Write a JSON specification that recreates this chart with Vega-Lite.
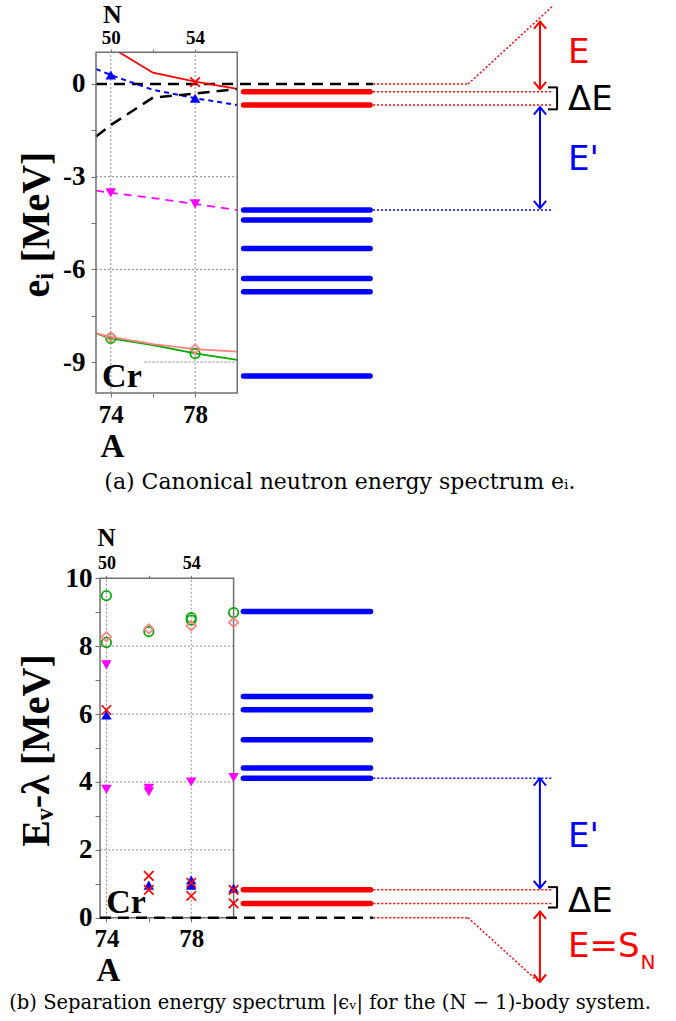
{
"$schema": "https://vega.github.io/schema/vega-lite/v6.json",
"width": 676, "height": 1021, "padding": 0,
"autosize": {"type": "none"},
"background": "white",
"config": {"view": {"stroke": null}},
"data": {"values": [{"annotation": 1}]},
"datasets": {
"lines_a": [
{"series":"red","A":74.4,"e":1.03},{"series":"red","A":76,"e":0.366},{"series":"red","A":78,"e":0.075},{"series":"red","A":80,"e":-0.16},
{"series":"blue","A":73.3,"e":0.485},{"series":"blue","A":74,"e":0.29},{"series":"blue","A":76,"e":-0.19},{"series":"blue","A":78,"e":-0.46},{"series":"blue","A":80,"e":-0.68},
{"series":"black","A":73.3,"e":-1.7},{"series":"black","A":74,"e":-1.33},{"series":"black","A":76,"e":-0.44},{"series":"black","A":78,"e":-0.31},{"series":"black","A":80,"e":-0.16},
{"series":"magenta","A":73.3,"e":-3.45},{"series":"magenta","A":74,"e":-3.52},{"series":"magenta","A":76,"e":-3.69},{"series":"magenta","A":78,"e":-3.88},{"series":"magenta","A":80,"e":-4.08},
{"series":"green","A":73.3,"e":-8.07},{"series":"green","A":74,"e":-8.23},{"series":"green","A":76,"e":-8.45},{"series":"green","A":78,"e":-8.72},{"series":"green","A":80,"e":-8.93},
{"series":"salmon","A":73.3,"e":-8.07},{"series":"salmon","A":74,"e":-8.18},{"series":"salmon","A":76,"e":-8.42},{"series":"salmon","A":78,"e":-8.58},{"series":"salmon","A":80,"e":-8.66}
],
"points_a": [
{"series":"blue","A":74,"e":0.29},{"series":"blue","A":78,"e":-0.46},
{"series":"magenta","A":74,"e":-3.52},{"series":"magenta","A":78,"e":-3.88},
{"series":"red","A":78,"e":0.06},
{"series":"green","A":74,"e":-8.23},{"series":"green","A":78,"e":-8.72},
{"series":"salmon","A":74,"e":-8.18},{"series":"salmon","A":78,"e":-8.58}
],
"levels_a": [
{"series":"red","e":-0.25},{"series":"red","e":-0.68},
{"series":"blue","e":-4.08},{"series":"blue","e":-4.40},{"series":"blue","e":-5.32},{"series":"blue","e":-6.29},{"series":"blue","e":-6.72},{"series":"blue","e":-9.45}
],
"arrows_a": [{"series":"red","top":2.02,"bottom":-0.17},{"series":"blue","top":-0.75,"bottom":-4.02}],
"labels_a": [{"text":"E","series":"red","e":0.99},{"text":"ΔE","series":"black","e":-0.52},{"text":"E'","series":"blue","e":-2.46}],
"points_b": [
{"series":"green","A":74,"e":9.49},{"series":"green","A":74,"e":8.11},{"series":"green","A":76,"e":8.43},{"series":"green","A":78,"e":8.84},{"series":"green","A":78,"e":8.77},{"series":"green","A":80,"e":8.99},
{"series":"salmon","A":74,"e":8.28},{"series":"salmon","A":76,"e":8.51},{"series":"salmon","A":78,"e":8.6},{"series":"salmon","A":80,"e":8.7},
{"series":"magenta","A":74,"e":7.45},{"series":"magenta","A":74,"e":3.78},{"series":"magenta","A":76,"e":3.81},{"series":"magenta","A":76,"e":3.71},{"series":"magenta","A":78,"e":4.0},{"series":"magenta","A":80,"e":4.13},
{"series":"red","A":74,"e":6.12},{"series":"red","A":76,"e":1.23},{"series":"red","A":76,"e":0.82},{"series":"red","A":78,"e":1.03},{"series":"red","A":78,"e":0.64},{"series":"red","A":80,"e":0.82},{"series":"red","A":80,"e":0.42},
{"series":"blue","A":74,"e":5.97},{"series":"blue","A":76,"e":0.96},{"series":"blue","A":78,"e":1.11},{"series":"blue","A":78,"e":0.96},{"series":"blue","A":80,"e":0.87}
],
"levels_b": [
{"series":"blue","e":9.02},{"series":"blue","e":6.52},{"series":"blue","e":6.13},{"series":"blue","e":5.24},{"series":"blue","e":4.41},{"series":"blue","e":4.11},
{"series":"red","e":0.82},{"series":"red","e":0.42}
],
"arrows_b": [{"series":"blue","top":4.11,"bottom":0.87},{"series":"red","top":0.18,"bottom":-1.89}],
"labels_b": [{"text":"E'","series":"blue","e":2.39},{"text":"ΔE","series":"black","e":0.47},{"text":"E=S","series":"red","e":-0.85}]
},
"layer": [
{
"resolve": {"axis": {"x": "independent", "y": "independent"}},
"layer": [
{"data":{"values":[{"g":74},{"g":78}]},
 "mark":{"type":"rule","stroke":"#888888","strokeWidth":1,"strokeDash":[2,2]},
 "encoding":{
  "x":{"field":"g","type":"quantitative","scale":{"domain":[68.746,100.81],"nice":false,"zero":false},
   "axis":{"orient":"top","offset":-52,"values":[74,76,78],"labelExpr":"datum.value==74?'50':datum.value==78?'54':''","domain":false,"grid":false,"tickSize":3,"tickColor":"#707070","labelFont":"Liberation Serif","labelFontWeight":"bold","labelFontSize":19,"labelColor":"#000000","labelPadding":2,"labelFlush":false,"labelOverlap":false,"title":"N","titleFont":"Liberation Serif","titleFontWeight":"bold","titleFontSize":26,"titleColor":"#000000","titleX":112,"titleY":-30,"titleBaseline":"alphabetic"}},
  "y":{"datum":-10,"type":"quantitative","scale":{"domain":[-30.32,2.718],"nice":false,"zero":false},"axis":null},
  "y2":{"datum":1.03}}},
{"data":{"values":[{"g":-3},{"g":-6}]},
 "mark":{"type":"rule","stroke":"#888888","strokeWidth":1,"strokeDash":[2,2]},
 "encoding":{
  "x":{"datum":73.3,"type":"quantitative","scale":{"domain":[68.746,100.81],"nice":false,"zero":false},"axis":null},
  "x2":{"datum":80},
  "y":{"field":"g","type":"quantitative","scale":{"domain":[-30.32,2.718],"nice":false,"zero":false},"axis":null}}},
{"data":{"values":[{"g":-9}]},
 "mark":{"type":"rule","stroke":"#888888","strokeWidth":1,"strokeDash":[2,2]},
 "encoding":{
  "x":{"datum":75.6,"type":"quantitative","scale":{"domain":[68.746,100.81],"nice":false,"zero":false},"axis":null},
  "x2":{"datum":80},
  "y":{"field":"g","type":"quantitative","scale":{"domain":[-30.32,2.718],"nice":false,"zero":false},"axis":null}}},
{"mark":{"type":"rule","stroke":"#000000","strokeWidth":2.5,"strokeDash":[11,7]},
 "encoding":{
  "x":{"datum":73.3,"type":"quantitative","scale":{"domain":[68.746,100.81],"nice":false,"zero":false},"axis":null},
  "x2":{"datum":86.44},
  "y":{"datum":0,"type":"quantitative","scale":{"domain":[-30.32,2.718],"nice":false,"zero":false},"axis":null}}},
{"data":{"name":"lines_a"},
 "transform":[{"filter":"datum.series=='red'||datum.series=='green'||datum.series=='salmon'"}],
 "mark":{"type":"line","strokeWidth":1.8},
 "encoding":{
  "x":{"field":"A","type":"quantitative","scale":{"domain":[68.746,100.81],"nice":false,"zero":false},"axis":null},
  "y":{"field":"e","type":"quantitative","scale":{"domain":[-30.32,2.718],"nice":false,"zero":false},"axis":null},
  "color":{"field":"series","type":"nominal","scale":{"domain":["red","blue","black","magenta","green","salmon"],"range":["#ff0000","#0000ff","#000000","#ff00ff","#00aa00","#ff8080"]},"legend":null}}},
{"data":{"name":"lines_a"},
 "transform":[{"filter":"datum.series=='blue'"}],
 "mark":{"type":"line","strokeWidth":2,"strokeDash":[5,4]},
 "encoding":{
  "x":{"field":"A","type":"quantitative","scale":{"domain":[68.746,100.81],"nice":false,"zero":false},"axis":null},
  "y":{"field":"e","type":"quantitative","scale":{"domain":[-30.32,2.718],"nice":false,"zero":false},"axis":null},
  "color":{"field":"series","type":"nominal","scale":{"domain":["red","blue","black","magenta","green","salmon"],"range":["#ff0000","#0000ff","#000000","#ff00ff","#00aa00","#ff8080"]},"legend":null}}},
{"data":{"name":"lines_a"},
 "transform":[{"filter":"datum.series=='black'"}],
 "mark":{"type":"line","strokeWidth":2.5,"strokeDash":[12,7]},
 "encoding":{
  "x":{"field":"A","type":"quantitative","scale":{"domain":[68.746,100.81],"nice":false,"zero":false},"axis":null},
  "y":{"field":"e","type":"quantitative","scale":{"domain":[-30.32,2.718],"nice":false,"zero":false},"axis":null},
  "color":{"field":"series","type":"nominal","scale":{"domain":["red","blue","black","magenta","green","salmon"],"range":["#ff0000","#0000ff","#000000","#ff00ff","#00aa00","#ff8080"]},"legend":null}}},
{"data":{"name":"lines_a"},
 "transform":[{"filter":"datum.series=='magenta'"}],
 "mark":{"type":"line","strokeWidth":1.8,"strokeDash":[8,6]},
 "encoding":{
  "x":{"field":"A","type":"quantitative","scale":{"domain":[68.746,100.81],"nice":false,"zero":false},"axis":null},
  "y":{"field":"e","type":"quantitative","scale":{"domain":[-30.32,2.718],"nice":false,"zero":false},"axis":null},
  "color":{"field":"series","type":"nominal","scale":{"domain":["red","blue","black","magenta","green","salmon"],"range":["#ff0000","#0000ff","#000000","#ff00ff","#00aa00","#ff8080"]},"legend":null}}},
{"mark":{"type":"rect","fillOpacity":0,"stroke":"#707070","strokeWidth":1.5},
 "encoding":{
  "x":{"datum":73.3,"type":"quantitative","scale":{"domain":[68.746,100.81],"nice":false,"zero":false},
   "axis":{"orient":"bottom","offset":-628,"values":[74,76,78],"labelExpr":"datum.value==74?'74':datum.value==78?'78':''","domain":false,"grid":false,"tickSize":4,"tickColor":"#707070","labelFont":"Liberation Serif","labelFontWeight":"bold","labelFontSize":25,"labelColor":"#000000","labelPadding":5,"labelFlush":false,"labelOverlap":false,"title":"A","titleFont":"Liberation Serif","titleFontWeight":"bold","titleFontSize":33,"titleColor":"#000000","titleX":112,"titleY":53,"titleBaseline":"middle"}},
  "x2":{"datum":80},
  "y":{"datum":-10,"type":"quantitative","scale":{"domain":[-30.32,2.718],"nice":false,"zero":false},
   "axis":{"orient":"left","offset":-96,"values":[0,-1.5,-3,-4.5,-6,-7.5,-9],"labelExpr":"datum.value==0?'0':datum.value==-3?'-3':datum.value==-6?'-6':datum.value==-9?'-9':''","domain":false,"grid":false,"tickSize":5,"tickColor":"#707070","labelFont":"Liberation Serif","labelFontWeight":"bold","labelFontSize":27,"labelColor":"#000000","labelPadding":6,"labelFlush":false,"labelOverlap":false,"title":"eᵢ [MeV]","titleFont":"Liberation Serif","titleFontWeight":"bold","titleFontSize":40,"titleColor":"#000000","titleX":-60,"titleY":224,"titleBaseline":"middle","titleAngle":-90}},
  "y2":{"datum":1.03}}},
{"data":{"name":"points_a"},
 "transform":[{"filter":"datum.series=='blue'||datum.series=='magenta'"}],
 "mark":{"type":"point","filled":true,"size":110,"opacity":1},
 "encoding":{
  "x":{"field":"A","type":"quantitative","scale":{"domain":[68.746,100.81],"nice":false,"zero":false},"axis":null},
  "y":{"field":"e","type":"quantitative","scale":{"domain":[-30.32,2.718],"nice":false,"zero":false},"axis":null},
  "color":{"field":"series","type":"nominal","scale":{"domain":["red","blue","black","magenta","green","salmon"],"range":["#ff0000","#0000ff","#000000","#ff00ff","#00aa00","#ff8080"]},"legend":null},
  "shape":{"field":"series","type":"nominal","scale":{"domain":["blue","magenta","red","green","salmon"],"range":["triangle-up","triangle-down","M-1,-1L1,1M-1,1L1,-1","circle","diamond"]},"legend":null}}},
{"data":{"name":"points_a"},
 "transform":[{"filter":"datum.series=='red'||datum.series=='green'||datum.series=='salmon'"}],
 "mark":{"type":"point","filled":false,"size":90,"strokeWidth":1.7,"opacity":1},
 "encoding":{
  "x":{"field":"A","type":"quantitative","scale":{"domain":[68.746,100.81],"nice":false,"zero":false},"axis":null},
  "y":{"field":"e","type":"quantitative","scale":{"domain":[-30.32,2.718],"nice":false,"zero":false},"axis":null},
  "color":{"field":"series","type":"nominal","scale":{"domain":["red","blue","black","magenta","green","salmon"],"range":["#ff0000","#0000ff","#000000","#ff00ff","#00aa00","#ff8080"]},"legend":null},
  "shape":{"field":"series","type":"nominal","scale":{"domain":["blue","magenta","red","green","salmon"],"range":["triangle-up","triangle-down","M-1,-1L1,1M-1,1L1,-1","circle","diamond"]},"legend":null}}},
{"data":{"name":"levels_a"},
 "mark":{"type":"rule","strokeWidth":5.5,"strokeCap":"round"},
 "encoding":{
  "x":{"datum":80.3,"type":"quantitative","scale":{"domain":[68.746,100.81],"nice":false,"zero":false},"axis":null},
  "x2":{"datum":86.3},
  "y":{"field":"e","type":"quantitative","scale":{"domain":[-30.32,2.718],"nice":false,"zero":false},"axis":null},
  "color":{"field":"series","type":"nominal","scale":{"domain":["red","blue","black","magenta","green","salmon"],"range":["#ff0000","#0000ff","#000000","#ff00ff","#00aa00","#ff8080"]},"legend":null}}},
{"data":{"name":"levels_a"},
 "transform":[{"filter":"datum.series=='red'"}],
 "mark":{"type":"rule","stroke":"#ff0000","strokeWidth":1.5,"strokeDash":[2,2]},
 "encoding":{
  "x":{"datum":86.44,"type":"quantitative","scale":{"domain":[68.746,100.81],"nice":false,"zero":false},"axis":null},
  "x2":{"datum":94.98},
  "y":{"field":"e","type":"quantitative","scale":{"domain":[-30.32,2.718],"nice":false,"zero":false},"axis":null}}},
{"mark":{"type":"rule","stroke":"#0000ff","strokeWidth":1.5,"strokeDash":[2,2]},
 "encoding":{
  "x":{"datum":86.44,"type":"quantitative","scale":{"domain":[68.746,100.81],"nice":false,"zero":false},"axis":null},
  "x2":{"datum":94.98},
  "y":{"datum":-4.08,"type":"quantitative","scale":{"domain":[-30.32,2.718],"nice":false,"zero":false},"axis":null}}},
{"mark":{"type":"rule","stroke":"#ff0000","strokeWidth":1.5,"strokeDash":[2,2]},
 "encoding":{
  "x":{"datum":86.44,"type":"quantitative","scale":{"domain":[68.746,100.81],"nice":false,"zero":false},"axis":null},
  "x2":{"datum":90.95},
  "y":{"datum":0,"type":"quantitative","scale":{"domain":[-30.32,2.718],"nice":false,"zero":false},"axis":null}}},
{"mark":{"type":"rule","stroke":"#ff0000","strokeWidth":1.5,"strokeDash":[2,2]},
 "encoding":{
  "x":{"datum":90.95,"type":"quantitative","scale":{"domain":[68.746,100.81],"nice":false,"zero":false},"axis":null},
  "x2":{"datum":94.98},
  "y":{"datum":0,"type":"quantitative","scale":{"domain":[-30.32,2.718],"nice":false,"zero":false},"axis":null},
  "y2":{"datum":2.53}}},
{"data":{"name":"arrows_a"},
 "mark":{"type":"rule","strokeWidth":2},
 "encoding":{
  "x":{"datum":94.36,"type":"quantitative","scale":{"domain":[68.746,100.81],"nice":false,"zero":false},"axis":null},
  "y":{"field":"top","type":"quantitative","scale":{"domain":[-30.32,2.718],"nice":false,"zero":false},"axis":null},
  "y2":{"field":"bottom"},
  "color":{"field":"series","type":"nominal","scale":{"domain":["red","blue","black","magenta","green","salmon"],"range":["#ff0000","#0000ff","#000000","#ff00ff","#00aa00","#ff8080"]},"legend":null}}},
{"data":{"name":"arrows_a"},
 "mark":{"type":"point","shape":"M-1,1.2L0,0L1,1.2","filled":false,"size":150,"strokeWidth":2,"opacity":1},
 "encoding":{
  "x":{"datum":94.36,"type":"quantitative","scale":{"domain":[68.746,100.81],"nice":false,"zero":false},"axis":null},
  "y":{"field":"top","type":"quantitative","scale":{"domain":[-30.32,2.718],"nice":false,"zero":false},"axis":null},
  "color":{"field":"series","type":"nominal","scale":{"domain":["red","blue","black","magenta","green","salmon"],"range":["#ff0000","#0000ff","#000000","#ff00ff","#00aa00","#ff8080"]},"legend":null}}},
{"data":{"name":"arrows_a"},
 "mark":{"type":"point","shape":"M-1,-1.2L0,0L1,-1.2","filled":false,"size":150,"strokeWidth":2,"opacity":1},
 "encoding":{
  "x":{"datum":94.36,"type":"quantitative","scale":{"domain":[68.746,100.81],"nice":false,"zero":false},"axis":null},
  "y":{"field":"bottom","type":"quantitative","scale":{"domain":[-30.32,2.718],"nice":false,"zero":false},"axis":null},
  "color":{"field":"series","type":"nominal","scale":{"domain":["red","blue","black","magenta","green","salmon"],"range":["#ff0000","#0000ff","#000000","#ff00ff","#00aa00","#ff8080"]},"legend":null}}},
{"mark":{"type":"rule","stroke":"#000000","strokeWidth":2},
 "encoding":{
  "x":{"datum":94.74,"type":"quantitative","scale":{"domain":[68.746,100.81],"nice":false,"zero":false},"axis":null},
  "x2":{"datum":95.2},
  "y":{"datum":-0.11,"type":"quantitative","scale":{"domain":[-30.32,2.718],"nice":false,"zero":false},"axis":null}}},
{"mark":{"type":"rule","stroke":"#000000","strokeWidth":2},
 "encoding":{
  "x":{"datum":95.17,"type":"quantitative","scale":{"domain":[68.746,100.81],"nice":false,"zero":false},"axis":null},
  "y":{"datum":-0.11,"type":"quantitative","scale":{"domain":[-30.32,2.718],"nice":false,"zero":false},"axis":null},
  "y2":{"datum":-0.82}}},
{"mark":{"type":"rule","stroke":"#000000","strokeWidth":2},
 "encoding":{
  "x":{"datum":94.74,"type":"quantitative","scale":{"domain":[68.746,100.81],"nice":false,"zero":false},"axis":null},
  "x2":{"datum":95.2},
  "y":{"datum":-0.82,"type":"quantitative","scale":{"domain":[-30.32,2.718],"nice":false,"zero":false},"axis":null}}},
{"data":{"name":"labels_a"},
 "mark":{"type":"text","font":"DejaVu Sans","fontSize":34,"align":"left","baseline":"middle"},
 "encoding":{
  "x":{"datum":95.69,"type":"quantitative","scale":{"domain":[68.746,100.81],"nice":false,"zero":false},"axis":null},
  "y":{"field":"e","type":"quantitative","scale":{"domain":[-30.32,2.718],"nice":false,"zero":false},"axis":null},
  "text":{"field":"text"},
  "color":{"field":"series","type":"nominal","scale":{"domain":["red","blue","black","magenta","green","salmon"],"range":["#ff0000","#0000ff","#000000","#ff00ff","#00aa00","#ff8080"]},"legend":null}}},
{"mark":{"type":"text","text":"Cr","font":"Liberation Serif","fontWeight":"bold","fontSize":34,"align":"center","baseline":"middle","color":"#000000"},
 "encoding":{
  "x":{"datum":74.53,"type":"quantitative","scale":{"domain":[68.746,100.81],"nice":false,"zero":false},"axis":null},
  "y":{"datum":-9.47,"type":"quantitative","scale":{"domain":[-30.32,2.718],"nice":false,"zero":false},"axis":null}}},
{"mark":{"type":"text","text":"(a) Canonical neutron energy spectrum eᵢ.","font":"DejaVu Serif","fontSize":22,"align":"center","baseline":"middle","color":"#000000"},
 "encoding":{
  "x":{"datum":84.87,"type":"quantitative","scale":{"domain":[68.746,100.81],"nice":false,"zero":false},"axis":null},
  "y":{"datum":-12.88,"type":"quantitative","scale":{"domain":[-30.32,2.718],"nice":false,"zero":false},"axis":null}}}
]
},
{
"resolve": {"axis": {"x": "independent", "y": "independent"}},
"layer": [
{"data":{"values":[{"g":74},{"g":78}]},
 "mark":{"type":"rule","stroke":"#888888","strokeWidth":1,"strokeDash":[2,2]},
 "encoding":{
  "x":{"field":"g","type":"quantitative","scale":{"domain":[68.98,100.87],"nice":false,"zero":false},
   "axis":{"orient":"top","offset":-578.3,"values":[74,76,78],"labelExpr":"datum.value==74?'50':datum.value==78?'54':''","domain":false,"grid":false,"tickSize":3,"tickColor":"#707070","labelFont":"Liberation Serif","labelFontWeight":"bold","labelFontSize":18,"labelColor":"#000000","labelPadding":3,"labelFlush":false,"labelOverlap":false,"title":"N","titleFont":"Liberation Serif","titleFontWeight":"bold","titleFontSize":25,"titleColor":"#000000","titleX":106,"titleY":-33,"titleBaseline":"alphabetic"}},
  "y":{"datum":0,"type":"quantitative","scale":{"domain":[-3.044,27.04],"nice":false,"zero":false},"axis":null},
  "y2":{"datum":10}}},
{"data":{"values":[{"g":2},{"g":4},{"g":6},{"g":8}]},
 "mark":{"type":"rule","stroke":"#888888","strokeWidth":1,"strokeDash":[2,2]},
 "encoding":{
  "x":{"datum":73.7,"type":"quantitative","scale":{"domain":[68.98,100.87],"nice":false,"zero":false},"axis":null},
  "x2":{"datum":80},
  "y":{"field":"g","type":"quantitative","scale":{"domain":[-3.044,27.04],"nice":false,"zero":false},"axis":null}}},
{"mark":{"type":"rect","fillOpacity":0,"stroke":"#707070","strokeWidth":1.5},
 "encoding":{
  "x":{"datum":73.7,"type":"quantitative","scale":{"domain":[68.98,100.87],"nice":false,"zero":false},
   "axis":{"orient":"bottom","offset":-103.3,"values":[74,76,78],"labelExpr":"datum.value==74?'74':datum.value==78?'78':''","domain":false,"grid":false,"tickSize":4,"tickColor":"#707070","labelFont":"Liberation Serif","labelFontWeight":"bold","labelFontSize":25,"labelColor":"#000000","labelPadding":5,"labelFlush":false,"labelOverlap":false,"title":"A","titleFont":"Liberation Serif","titleFontWeight":"bold","titleFontSize":33,"titleColor":"#000000","titleX":108,"titleY":53,"titleBaseline":"middle"}},
  "x2":{"datum":80},
  "y":{"datum":0,"type":"quantitative","scale":{"domain":[-3.044,27.04],"nice":false,"zero":false},
   "axis":{"orient":"left","offset":-100,"values":[0,1,2,3,4,5,6,7,8,9,10],"labelExpr":"datum.value%2==0?''+datum.value:''","domain":false,"grid":false,"tickSize":5,"tickColor":"#707070","labelFont":"Liberation Serif","labelFontWeight":"bold","labelFontSize":27,"labelColor":"#000000","labelPadding":3,"labelFlush":false,"labelOverlap":false,"title":"Eᵥ-λ [MeV]","titleFont":"Liberation Serif","titleFontWeight":"bold","titleFontSize":40,"titleColor":"#000000","titleX":-64,"titleY":750,"titleBaseline":"middle","titleAngle":-90}},
  "y2":{"datum":10}}},
{"mark":{"type":"rule","stroke":"#000000","strokeWidth":2.5,"strokeDash":[11,7]},
 "encoding":{
  "x":{"datum":73.7,"type":"quantitative","scale":{"domain":[68.98,100.87],"nice":false,"zero":false},"axis":null},
  "x2":{"datum":86.59},
  "y":{"datum":0,"type":"quantitative","scale":{"domain":[-3.044,27.04],"nice":false,"zero":false},"axis":null}}},
{"data":{"name":"points_b"},
 "transform":[{"filter":"datum.series=='blue'||datum.series=='magenta'"}],
 "mark":{"type":"point","filled":true,"size":110,"opacity":1},
 "encoding":{
  "x":{"field":"A","type":"quantitative","scale":{"domain":[68.98,100.87],"nice":false,"zero":false},"axis":null},
  "y":{"field":"e","type":"quantitative","scale":{"domain":[-3.044,27.04],"nice":false,"zero":false},"axis":null},
  "color":{"field":"series","type":"nominal","scale":{"domain":["red","blue","black","magenta","green","salmon"],"range":["#ff0000","#0000ff","#000000","#ff00ff","#00aa00","#ff8080"]},"legend":null},
  "shape":{"field":"series","type":"nominal","scale":{"domain":["blue","magenta","red","green","salmon"],"range":["triangle-up","triangle-down","M-1,-1L1,1M-1,1L1,-1","circle","diamond"]},"legend":null}}},
{"data":{"name":"points_b"},
 "transform":[{"filter":"datum.series=='red'||datum.series=='green'||datum.series=='salmon'"}],
 "mark":{"type":"point","filled":false,"size":90,"strokeWidth":1.7,"opacity":1},
 "encoding":{
  "x":{"field":"A","type":"quantitative","scale":{"domain":[68.98,100.87],"nice":false,"zero":false},"axis":null},
  "y":{"field":"e","type":"quantitative","scale":{"domain":[-3.044,27.04],"nice":false,"zero":false},"axis":null},
  "color":{"field":"series","type":"nominal","scale":{"domain":["red","blue","black","magenta","green","salmon"],"range":["#ff0000","#0000ff","#000000","#ff00ff","#00aa00","#ff8080"]},"legend":null},
  "shape":{"field":"series","type":"nominal","scale":{"domain":["blue","magenta","red","green","salmon"],"range":["triangle-up","triangle-down","M-1,-1L1,1M-1,1L1,-1","circle","diamond"]},"legend":null}}},
{"data":{"name":"levels_b"},
 "mark":{"type":"rule","strokeWidth":5.5,"strokeCap":"round"},
 "encoding":{
  "x":{"datum":80.46,"type":"quantitative","scale":{"domain":[68.98,100.87],"nice":false,"zero":false},"axis":null},
  "x2":{"datum":86.46},
  "y":{"field":"e","type":"quantitative","scale":{"domain":[-3.044,27.04],"nice":false,"zero":false},"axis":null},
  "color":{"field":"series","type":"nominal","scale":{"domain":["red","blue","black","magenta","green","salmon"],"range":["#ff0000","#0000ff","#000000","#ff00ff","#00aa00","#ff8080"]},"legend":null}}},
{"data":{"name":"levels_b"},
 "transform":[{"filter":"datum.series=='red'"}],
 "mark":{"type":"rule","stroke":"#ff0000","strokeWidth":1.5,"strokeDash":[2,2]},
 "encoding":{
  "x":{"datum":86.59,"type":"quantitative","scale":{"domain":[68.98,100.87],"nice":false,"zero":false},"axis":null},
  "x2":{"datum":95.07},
  "y":{"field":"e","type":"quantitative","scale":{"domain":[-3.044,27.04],"nice":false,"zero":false},"axis":null}}},
{"mark":{"type":"rule","stroke":"#0000ff","strokeWidth":1.5,"strokeDash":[2,2]},
 "encoding":{
  "x":{"datum":86.59,"type":"quantitative","scale":{"domain":[68.98,100.87],"nice":false,"zero":false},"axis":null},
  "x2":{"datum":95.07},
  "y":{"datum":4.11,"type":"quantitative","scale":{"domain":[-3.044,27.04],"nice":false,"zero":false},"axis":null}}},
{"mark":{"type":"rule","stroke":"#ff0000","strokeWidth":1.5,"strokeDash":[2,2]},
 "encoding":{
  "x":{"datum":86.59,"type":"quantitative","scale":{"domain":[68.98,100.87],"nice":false,"zero":false},"axis":null},
  "x2":{"datum":91.06},
  "y":{"datum":0,"type":"quantitative","scale":{"domain":[-3.044,27.04],"nice":false,"zero":false},"axis":null}}},
{"mark":{"type":"rule","stroke":"#ff0000","strokeWidth":1.5,"strokeDash":[2,2]},
 "encoding":{
  "x":{"datum":91.06,"type":"quantitative","scale":{"domain":[68.98,100.87],"nice":false,"zero":false},"axis":null},
  "x2":{"datum":94.36},
  "y":{"datum":0,"type":"quantitative","scale":{"domain":[-3.044,27.04],"nice":false,"zero":false},"axis":null},
  "y2":{"datum":-1.88}}},
{"data":{"name":"arrows_b"},
 "mark":{"type":"rule","strokeWidth":2},
 "encoding":{
  "x":{"datum":94.45,"type":"quantitative","scale":{"domain":[68.98,100.87],"nice":false,"zero":false},"axis":null},
  "y":{"field":"top","type":"quantitative","scale":{"domain":[-3.044,27.04],"nice":false,"zero":false},"axis":null},
  "y2":{"field":"bottom"},
  "color":{"field":"series","type":"nominal","scale":{"domain":["red","blue","black","magenta","green","salmon"],"range":["#ff0000","#0000ff","#000000","#ff00ff","#00aa00","#ff8080"]},"legend":null}}},
{"data":{"name":"arrows_b"},
 "mark":{"type":"point","shape":"M-1,1.2L0,0L1,1.2","filled":false,"size":150,"strokeWidth":2,"opacity":1},
 "encoding":{
  "x":{"datum":94.45,"type":"quantitative","scale":{"domain":[68.98,100.87],"nice":false,"zero":false},"axis":null},
  "y":{"field":"top","type":"quantitative","scale":{"domain":[-3.044,27.04],"nice":false,"zero":false},"axis":null},
  "color":{"field":"series","type":"nominal","scale":{"domain":["red","blue","black","magenta","green","salmon"],"range":["#ff0000","#0000ff","#000000","#ff00ff","#00aa00","#ff8080"]},"legend":null}}},
{"data":{"name":"arrows_b"},
 "mark":{"type":"point","shape":"M-1,-1.2L0,0L1,-1.2","filled":false,"size":150,"strokeWidth":2,"opacity":1},
 "encoding":{
  "x":{"datum":94.45,"type":"quantitative","scale":{"domain":[68.98,100.87],"nice":false,"zero":false},"axis":null},
  "y":{"field":"bottom","type":"quantitative","scale":{"domain":[-3.044,27.04],"nice":false,"zero":false},"axis":null},
  "color":{"field":"series","type":"nominal","scale":{"domain":["red","blue","black","magenta","green","salmon"],"range":["#ff0000","#0000ff","#000000","#ff00ff","#00aa00","#ff8080"]},"legend":null}}},
{"mark":{"type":"rule","stroke":"#000000","strokeWidth":2},
 "encoding":{
  "x":{"datum":94.83,"type":"quantitative","scale":{"domain":[68.98,100.87],"nice":false,"zero":false},"axis":null},
  "x2":{"datum":95.29},
  "y":{"datum":0.9,"type":"quantitative","scale":{"domain":[-3.044,27.04],"nice":false,"zero":false},"axis":null}}},
{"mark":{"type":"rule","stroke":"#000000","strokeWidth":2},
 "encoding":{
  "x":{"datum":95.26,"type":"quantitative","scale":{"domain":[68.98,100.87],"nice":false,"zero":false},"axis":null},
  "y":{"datum":0.9,"type":"quantitative","scale":{"domain":[-3.044,27.04],"nice":false,"zero":false},"axis":null},
  "y2":{"datum":0.3}}},
{"mark":{"type":"rule","stroke":"#000000","strokeWidth":2},
 "encoding":{
  "x":{"datum":94.83,"type":"quantitative","scale":{"domain":[68.98,100.87],"nice":false,"zero":false},"axis":null},
  "x2":{"datum":95.29},
  "y":{"datum":0.3,"type":"quantitative","scale":{"domain":[-3.044,27.04],"nice":false,"zero":false},"axis":null}}},
{"data":{"name":"labels_b"},
 "mark":{"type":"text","font":"DejaVu Sans","fontSize":34,"align":"left","baseline":"middle"},
 "encoding":{
  "x":{"datum":95.78,"type":"quantitative","scale":{"domain":[68.98,100.87],"nice":false,"zero":false},"axis":null},
  "y":{"field":"e","type":"quantitative","scale":{"domain":[-3.044,27.04],"nice":false,"zero":false},"axis":null},
  "text":{"field":"text"},
  "color":{"field":"series","type":"nominal","scale":{"domain":["red","blue","black","magenta","green","salmon"],"range":["#ff0000","#0000ff","#000000","#ff00ff","#00aa00","#ff8080"]},"legend":null}}},
{"mark":{"type":"text","text":"N","font":"DejaVu Sans","fontSize":20,"align":"left","baseline":"middle","color":"#ff0000"},
 "encoding":{
  "x":{"datum":99.2,"type":"quantitative","scale":{"domain":[68.98,100.87],"nice":false,"zero":false},"axis":null},
  "y":{"datum":-1.34,"type":"quantitative","scale":{"domain":[-3.044,27.04],"nice":false,"zero":false},"axis":null}}},
{"mark":{"type":"text","text":"Cr","font":"Liberation Serif","fontWeight":"bold","fontSize":34,"align":"center","baseline":"middle","color":"#000000"},
 "encoding":{
  "x":{"datum":74.93,"type":"quantitative","scale":{"domain":[68.98,100.87],"nice":false,"zero":false},"axis":null},
  "y":{"datum":0.43,"type":"quantitative","scale":{"domain":[-3.044,27.04],"nice":false,"zero":false},"axis":null}}},
{"mark":{"type":"text","text":"(b) Separation energy spectrum |ϵᵥ| for the (N − 1)-body system.","font":"DejaVu Serif","fontSize":19.5,"align":"center","baseline":"middle","color":"#000000"},
 "encoding":{
  "x":{"datum":84.55,"type":"quantitative","scale":{"domain":[68.98,100.87],"nice":false,"zero":false},"axis":null},
  "y":{"datum":-2.51,"type":"quantitative","scale":{"domain":[-3.044,27.04],"nice":false,"zero":false},"axis":null}}}
]
}
],
"resolve": {"scale": {"x": "independent", "y": "independent"}, "axis": {"x": "independent", "y": "independent"}}
}
